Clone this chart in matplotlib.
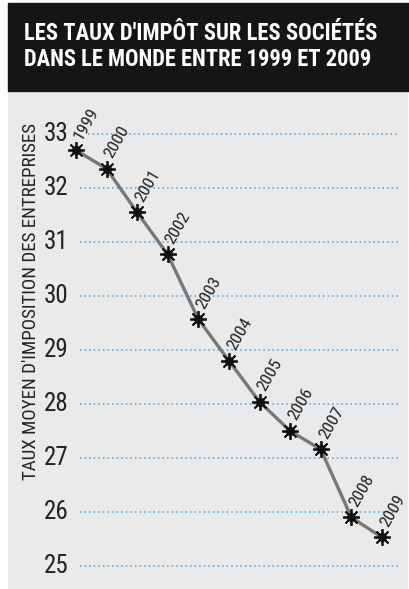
import os
import matplotlib.pyplot as plt
from matplotlib.patches import Rectangle
from matplotlib import font_manager as fm
import matplotlib.transforms as mtransforms

years = [1999, 2000, 2001, 2002, 2003, 2004, 2005, 2006, 2007, 2008, 2009]
taux = [32.70, 32.36, 31.55, 30.77, 29.57, 28.80, 28.04, 27.50, 27.16, 25.90, 25.53]
yticks = [25, 26, 27, 28, 29, 30, 31, 32, 33]

title_lines = ["LES TAUX D'IMPÔT SUR LES SOCIÉTÉS", "DANS LE MONDE ENTRE 1999 ET 2009"]
ylabel = "TAUX MOYEN D'IMPOSITION DES ENTREPRISES"


# look for a condensed face, the original uses a narrow grotesque
def pick(rules):
    files = sorted(set(f.fname for f in fm.fontManager.ttflist))
    for keys, bad in rules:
        for fn in files:
            b = os.path.basename(fn).lower()
            if all(k in b for k in keys) and not any(x in b for x in bad):
                return fn
    return None


nobad = ('italic', 'semi', 'extra', 'light', 'black', 'medium', 'thin')
bold_file = pick([(('robotocondensed', 'bold'), nobad),
                  (('liberationsansnarrow', 'bold'), nobad),
                  (('dejavusanscondensed', 'bold'), nobad),
                  (('notosans', 'condensedbold'), nobad),
                  (('condensed', 'bold'), nobad),
                  (('narrow', 'bold'), nobad)])
reg_file = pick([(('robotocondensed', 'regular'), nobad),
                 (('liberationsansnarrow', 'regular'), nobad),
                 (('dejavusanscondensed.ttf',), nobad),
                 (('notosans-condensed.ttf',), nobad),
                 (('condensed',), nobad + ('bold',)),
                 (('narrow',), nobad + ('bold',))])

if bold_file:
    fp_bold = fm.FontProperties(fname=bold_file)
else:
    fp_bold = fm.FontProperties(family='DejaVu Sans', stretch='condensed', weight='bold')
if reg_file:
    fp_reg = fm.FontProperties(fname=reg_file)
else:
    fp_reg = fm.FontProperties(family='DejaVu Sans', stretch='condensed')

W, H = 410, 589
fig = plt.figure(figsize=(W / 100, H / 100), dpi=100)
fig.patch.set_facecolor('white')

# black title band
fig.patches.append(Rectangle((8 / W, 1 - 91 / H), 402 / W, 88 / H,
                             transform=fig.transFigure, color='#151515', zorder=0))
t1 = fig.text(24 / W, 1 - 33 / H, title_lines[0], color='white',
              fontproperties=fp_bold, va='center', ha='left')
t2 = fig.text(24 / W, 1 - 59 / H, title_lines[1], color='white',
              fontproperties=fp_bold, va='center', ha='left')

# grey panel = axes
ax = fig.add_axes([8 / W, 0, 400 / W, 497 / H])
ax.set_facecolor('#eaeaea')
for s in ax.spines.values():
    s.set_visible(False)
ax.set_xticks([])
ax.set_yticks([])
ax.set_xlim(1996.78, 2009.85)
ax.set_ylim(24.574, 33.78)

for v in yticks:
    x0 = 0.2 if v == 33 else 0.18
    ax.axhline(v, xmin=x0, xmax=0.9775, color='#4a9ee0', linestyle=(0, (1, 2)),
               linewidth=1.1, zorder=1)

trans = mtransforms.blended_transform_factory(ax.transAxes, ax.transData)
for v in yticks:
    ax.text(0.152, v, str(v), transform=trans, ha='right', va='center',
            fontproperties=fp_reg, fontsize=18, color='#222222')

yl = ax.text(0.057, 0.578, ylabel, transform=ax.transAxes, rotation=90,
             ha='center', va='center', fontproperties=fp_reg, color='#222222')

ax.plot(years, taux, color='#777777', linewidth=2.4, zorder=2)
ax.plot(years, taux, linestyle='none', marker=(8, 2, 0), markersize=12,
        markeredgecolor='#111111', markeredgewidth=1.3, zorder=3)
ax.plot(years, taux, linestyle='none', marker='o', markersize=5.5,
        color='#111111', zorder=3)

for yr, v in zip(years, taux):
    ax.annotate(str(yr), (yr, v), xytext=(1.5, 8.6), textcoords='offset points',
                rotation=60, rotation_mode='anchor', ha='left', va='center',
                fontproperties=fp_reg, fontsize=12.5, color='#222222')

# fit text lengths to the original
for t, target, size in [(t1, 354, 19), (t2, 348, 19), (yl, 359, 14)]:
    t.set_fontsize(size)
    fig.canvas.draw()
    bb = t.get_window_extent()
    length = max(bb.width, bb.height)
    t.set_fontsize(size * target / length)

fig.savefig('out.png', dpi=100)
